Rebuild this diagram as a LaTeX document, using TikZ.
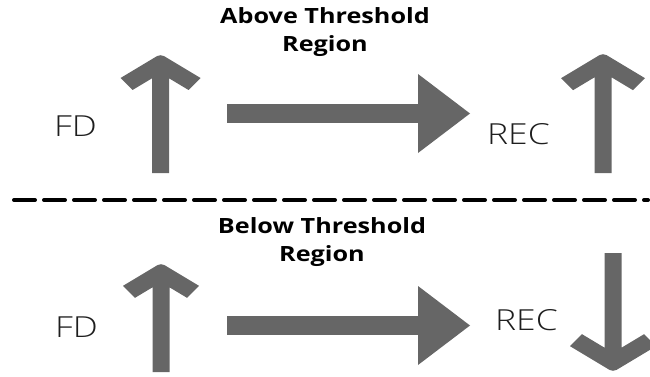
\documentclass[tikz,border=0pt]{standalone}
\usepackage{fontspec}
\usetikzlibrary{arrows.meta}
\setmainfont{Open Sans}[FakeStretch=1.2]
\newfontfamily\lightfont{Open Sans Light}[FakeStretch=1.22]
\definecolor{arrowgray}{RGB}{102,102,102}
\definecolor{labelgray}{RGB}{30,30,30}

\begin{document}
\begin{tikzpicture}[x=1pt,y=-1pt,
  arrowfill/.style={fill=arrowgray},
  blockflow/.style={arrowgray,line width=19pt,-{Triangle[length=52pt,width=79pt,line width=0pt]}},
  divider/.style={line width=4pt,dash pattern=on 21pt off 9pt,line cap=round},
  regionlabel/.style={font=\fontsize{21}{28}\selectfont\bfseries,align=center,inner sep=0pt},
  signal/.style={font=\lightfont\fontsize{29}{31}\selectfont,text=labelgray,inner sep=0pt}]
  \newcommand{\halfshaft}{8.5}
  % x, tip y, tail y, wing span, direction (1 up, -1 down)
  \newcommand\drawvarrow[5]{\fill[arrowfill] ({#1-\halfshaft},#3) -- ({#1-\halfshaft},{#2+(#5)*24.3})
    -- ({#1-#4+12},{#2+(#5)*(0.6*#4+12)}) -- ({#1-#4},{#2+(#5)*0.6*#4}) [rounded corners=4pt] -- (#1,#2)
    [sharp corners] -- ({#1+#4},{#2+(#5)*0.6*#4}) -- ({#1+#4-12},{#2+(#5)*(0.6*#4+12)})
    -- ({#1+\halfshaft},{#2+(#5)*24.3}) -- ({#1+\halfshaft},#3) -- cycle;}
  \useasboundingbox (0,0) rectangle (650,377);

% above threshold part
  \node[regionlabel,anchor=north] (aboveregion) at (325,7) {Above Threshold\\Region};
  \node[signal,anchor=base west] (fdabove) at (54,136) {FD};
  \node[signal,anchor=base west] (recabove) at (487,144) {REC};
  \drawvarrow{160.5}{54}{173}{40}{1}
  \drawvarrow{603}{53}{173}{42}{1}
  \coordinate (flowabovestart) at (227,113.5);
  \coordinate (flowaboveend) at (470,113.5);
  \draw[blockflow] (flowabovestart) -- (flowaboveend);

% divider
  \draw[divider] (14,200) -- (648,200);

% below threshold part
  \node[regionlabel,anchor=north] (belowregion) at (322,217) {Below Threshold\\Region};
  \node[signal,anchor=base west] (fdbelow) at (55,337) {FD};
  \node[signal,anchor=base west] (recbelow) at (495,330) {REC};
  \drawvarrow{161}{263}{372}{38}{1}
  \drawvarrow{613}{372}{253}{43}{-1}
  \coordinate (flowbelowstart) at (227,325.5);
  \coordinate (flowbelowend) at (470,325.5);
  \draw[blockflow] (flowbelowstart) -- (flowbelowend);

\end{tikzpicture}
\end{document}
